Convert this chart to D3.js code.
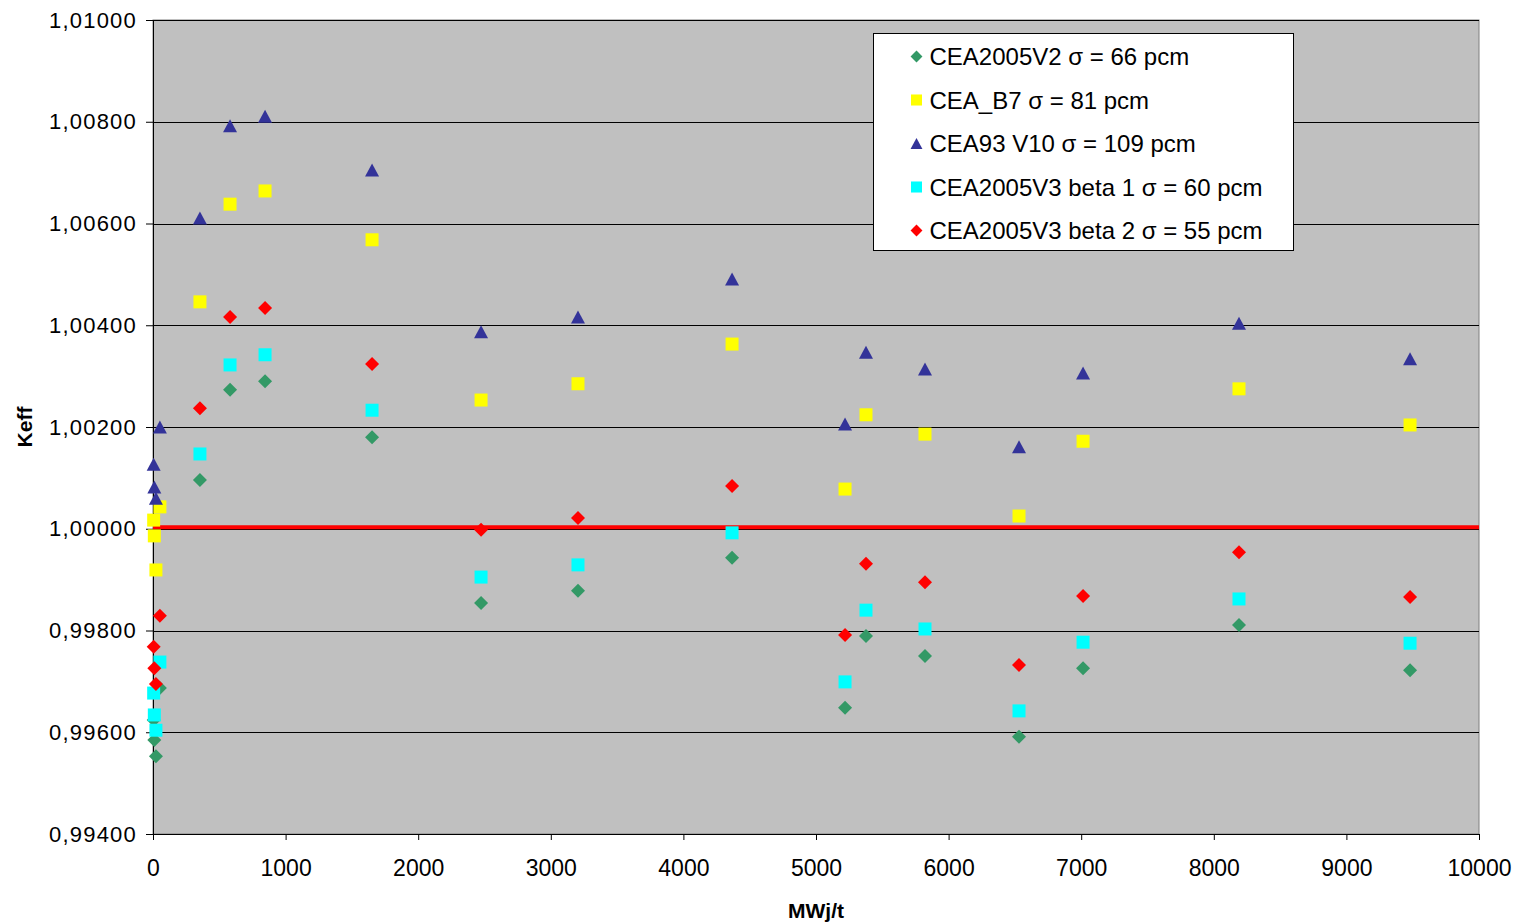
<!DOCTYPE html>
<html>
<head>
<meta charset="utf-8">
<script src="https://cdn.jsdelivr.net/npm/d3@7"></script>
<style>
  html, body { margin: 0; padding: 0; background: #fff; }
  svg { display: block; font-family: "Liberation Sans", Arial, sans-serif; }
</style>
</head>
<body>
<div id="chart"></div>
<script>
// burnup steps (MWj/t)
const burnup = [5, 10, 22, 52, 354, 581, 845, 1652, 2474, 3205, 4367, 5219, 5377, 5822, 6531, 7014, 8190, 9480];

const cea2005v2 = [0.99624, 0.99585, 0.99553, 0.99687, 1.00096, 1.00273, 1.00290, 1.00180, 0.99854, 0.99878, 0.99943, 0.99648, 0.99789, 0.99750, 0.99591, 0.99726, 0.99811, 0.99722];
const ceaB7 = [1.00017, 0.99986, 0.99919, 1.00043, 1.00446, 1.00638, 1.00664, 1.00568, 1.00253, 1.00285, 1.00363, 1.00078, 1.00224, 1.00186, 1.00025, 1.00172, 1.00275, 1.00204];
const cea93v10 = [1.00127, 1.00082, 1.00060, 1.00200, 1.00611, 1.00792, 1.00811, 1.00705, 1.00387, 1.00416, 1.00491, 1.00206, 1.00347, 1.00314, 1.00161, 1.00306, 1.00404, 1.00334];
const cea2005v3b1 = [0.99677, 0.99634, 0.99604, 0.99738, 1.00147, 1.00322, 1.00342, 1.00233, 0.99905, 0.99929, 0.99992, 0.99699, 0.99840, 0.99803, 0.99642, 0.99777, 0.99862, 0.99775];
const cea2005v3b2 = [0.99768, 0.99726, 0.99695, 0.99829, 1.00237, 1.00416, 1.00434, 1.00324, 0.99998, 1.00021, 1.00084, 0.99791, 0.99931, 0.99895, 0.99732, 0.99868, 0.99954, 0.99866];

const seriesNames = ['CEA2005V2 σ = 66 pcm', 'CEA_B7 σ = 81 pcm', 'CEA93 V10 σ = 109 pcm', 'CEA2005V3 beta 1 σ = 60 pcm', 'CEA2005V3 beta 2 σ = 55 pcm'];
const seriesValues = [cea2005v2, ceaB7, cea93v10, cea2005v3b1, cea2005v3b2];
const seriesColors = ['#339966', '#ffff00', '#333399', '#00ffff', '#ff0000'];
const seriesShapes = ['diamond', 'square', 'triangle', 'square', 'diamond'];

const xTicks = [0, 1000, 2000, 3000, 4000, 5000, 6000, 7000, 8000, 9000, 10000];
const yTicks = [0.994, 0.996, 0.998, 1.000, 1.002, 1.004, 1.006, 1.008, 1.010];
const refLine = 1.0;

const W = 1517, H = 922;
const m = { top: 20, right: 38, bottom: 88, left: 153 };
const w = W - m.left - m.right, h = H - m.top - m.bottom;

const svg = d3.select('#chart').append('svg').attr('width', W).attr('height', H);
svg.append('rect').attr('width', W).attr('height', H).attr('fill', '#fff');
const g = svg.append('g').attr('transform', `translate(${m.left},${m.top})`);

const x = d3.scaleLinear().domain([0, 10000]).range([0, w]);
const y = d3.scaleLinear().domain([0.994, 1.010]).range([h, 0]);

// plot area
g.append('rect').attr('width', w).attr('height', h)
  .attr('fill', '#c0c0c0').attr('stroke', '#808080').attr('stroke-width', 1);

// horizontal grid
g.selectAll('.gy').data(yTicks.slice(1)).join('line')
  .attr('x1', 0).attr('x2', w)
  .attr('y1', d => Math.round(y(d)) + 0.5).attr('y2', d => Math.round(y(d)) + 0.5)
  .attr('stroke', '#000').attr('stroke-width', 1);

// axes
const fmtY = d => d3.format('.5f')(d).replace('.', ',');
g.append('g')
  .call(d3.axisLeft(y).tickValues(yTicks).tickFormat(fmtY).tickSizeInner(7).tickSizeOuter(0).tickPadding(9))
  .call(a => a.select('.domain').attr('stroke', '#000'))
  .call(a => a.selectAll('.tick line').attr('stroke', '#000'))
  .selectAll('text').attr('font-family', '"Liberation Sans", Arial, sans-serif')
  .attr('font-size', '22px').attr('letter-spacing', '1.2px').attr('fill', '#000');

g.append('g').attr('transform', `translate(0,${h})`)
  .call(d3.axisBottom(x).tickValues(xTicks).tickFormat(d3.format('d')).tickSizeInner(6).tickSizeOuter(0).tickPadding(20))
  .call(a => a.select('.domain').attr('stroke', '#000'))
  .call(a => a.selectAll('.tick line').attr('stroke', '#000'))
  .selectAll('text').attr('font-family', '"Liberation Sans", Arial, sans-serif')
  .attr('font-size', '23px').attr('fill', '#000');

// reference line keff = 1
g.append('line').attr('x1', 0).attr('x2', w)
  .attr('y1', y(refLine) - 1.5).attr('y2', y(refLine) - 1.5)
  .attr('stroke', '#ff0000').attr('stroke-width', 4);

// markers
function markerPath(shape) {
  if (shape === 'square') return 'M-6.5,-6.5H6.5V6.5H-6.5Z';
  if (shape === 'diamond') return 'M0,-7L7,0L0,7L-7,0Z';
  return 'M0,-6.5L7,6.5L-7,6.5Z';
}

seriesValues.forEach((vals, i) => {
  const pts = burnup.map((b, j) => ({ b, v: vals[j] }));
  g.append('g').selectAll('path').data(pts).join('path')
    .attr('d', markerPath(seriesShapes[i]))
    .attr('transform', d => `translate(${x(d.b)},${y(d.v)})`)
    .attr('fill', seriesColors[i]);
});

// axis titles
svg.append('text').attr('x', m.left + w / 2).attr('y', 918)
  .attr('text-anchor', 'middle').attr('font-size', '21px').attr('font-weight', 'bold')
  .text('MWj/t');
svg.append('text').attr('transform', `translate(32,${m.top + h / 2}) rotate(-90)`)
  .attr('text-anchor', 'middle').attr('font-size', '21px').attr('font-weight', 'bold')
  .text('Keff');

// legend
const lg = svg.append('g').attr('transform', 'translate(873.5,33.5)');
lg.append('rect').attr('width', 420).attr('height', 217)
  .attr('fill', '#fff').attr('stroke', '#000').attr('stroke-width', 1);
seriesNames.forEach((name, i) => {
  const cy = 23 + i * 43.5;
  lg.append('path').attr('d', markerPath(seriesShapes[i]))
    .attr('transform', `translate(43,${cy}) scale(0.85)`)
    .attr('fill', seriesColors[i]);
  lg.append('text').attr('x', 56).attr('y', cy).attr('dy', '0.36em')
    .attr('font-size', '24px').attr('fill', '#000').text(name);
});
</script>
</body>
</html>
